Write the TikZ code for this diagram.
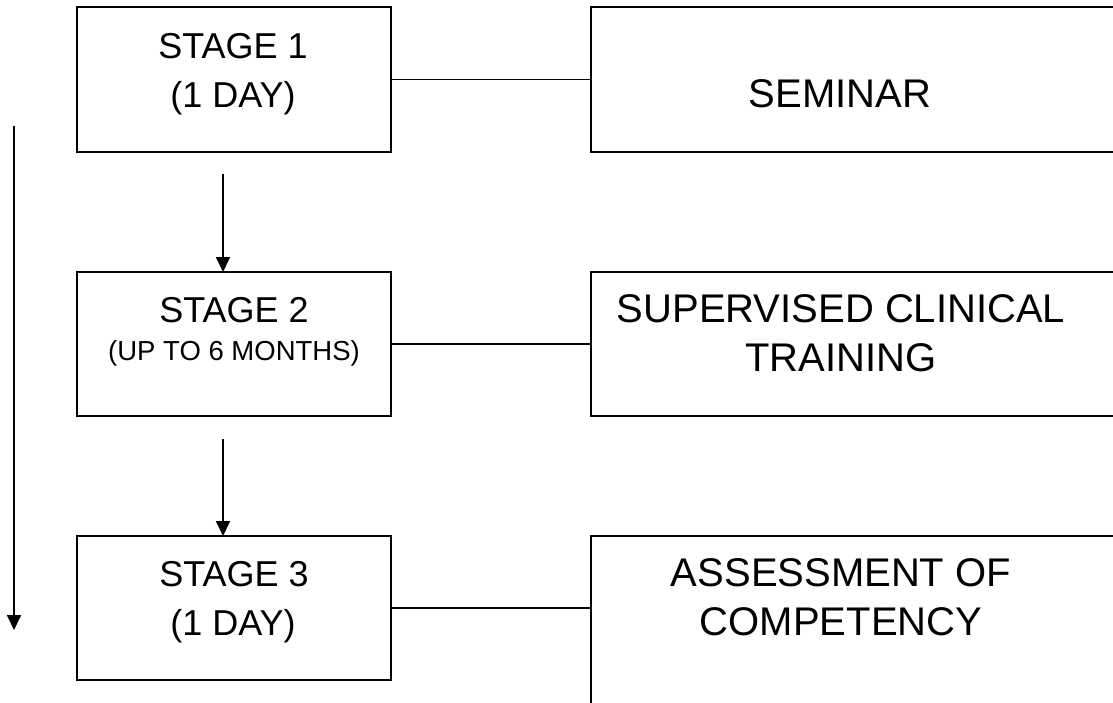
\documentclass[tikz,border=0pt]{standalone}
\usepackage{fontspec}
\setmainfont{Liberation Sans}
\usetikzlibrary{arrows.meta}
\begin{document}
\begin{tikzpicture}[x=1pt,y=-1pt,
  box/.style={draw, line width=1.6pt, inner sep=0pt, outer sep=0pt, anchor=north west},
  lefttxt/.style={anchor=base, inner sep=0pt, font=\fontsize{36}{43}\selectfont},
  smalltxt/.style={anchor=base, inner sep=0pt, font=\fontsize{27.5}{33}\selectfont},
  righttxt/.style={anchor=base, inner sep=0pt, font=\fontsize{40}{48}\selectfont},
  link/.style={line width=1.4pt},
  flow/.style={line width=1.8pt, -{Triangle[length=15pt,width=14pt]}}]
\clip (0,0) rectangle (1113,702);
\fill[white] (0,0) rectangle (1113,702);
% left boxes
\node[box, minimum width=314pt, minimum height=145pt] (s1) at (77,7) {};
\node[box, minimum width=314pt, minimum height=144pt] (s2) at (77,272) {};
\node[box, minimum width=314pt, minimum height=144pt] (s3) at (77,536) {};
% right boxes
\node[box, minimum width=549pt, minimum height=145pt] (r1) at (591,7) {};
\node[box, minimum width=549pt, minimum height=144pt] (r2) at (591,272) {};
\node[box, minimum width=549pt, minimum height=190pt] (r3) at (591,536) {};
% texts
\node[lefttxt] (t1a) at (233,58) {STAGE 1};
\node[lefttxt] (t1b) at (233,107) {(1 DAY)};
\node[lefttxt] (t2a) at (234,322) {STAGE 2};
\node[smalltxt] (t2b) at (234,360) {(UP TO 6 MONTHS)};
\node[lefttxt] (t3a) at (234,586) {STAGE 3};
\node[lefttxt] (t3b) at (233,635) {(1 DAY)};
\node[righttxt] (u1) at (840,107) {SEMINAR};
\node[righttxt] (u2a) at (841,322) {SUPERVISED CLINICAL};
\node[righttxt] (u2b) at (841,371) {TRAINING};
\node[righttxt] (u3a) at (841,586) {ASSESSMENT OF};
\node[righttxt] (u3b) at (841,635) {COMPETENCY};
% connectors
\draw[link] (s1.east) -- (r1.west);
\draw[link] (s2.east) -- (r2.west);
\draw[link] (s3.east) -- (s3.east -| r3.west);
% arrows
\coordinate (a1) at (223,174);
\coordinate (a2) at (223,439);
\draw[flow] (a1) -- (a1 |- s2.north);
\draw[flow] (a2) -- (a2 |- s3.north);
\coordinate (l1) at (14,126);
\coordinate (l2) at (14,630);
\draw[flow] (l1) -- (l2);
\end{tikzpicture}
\end{document}
